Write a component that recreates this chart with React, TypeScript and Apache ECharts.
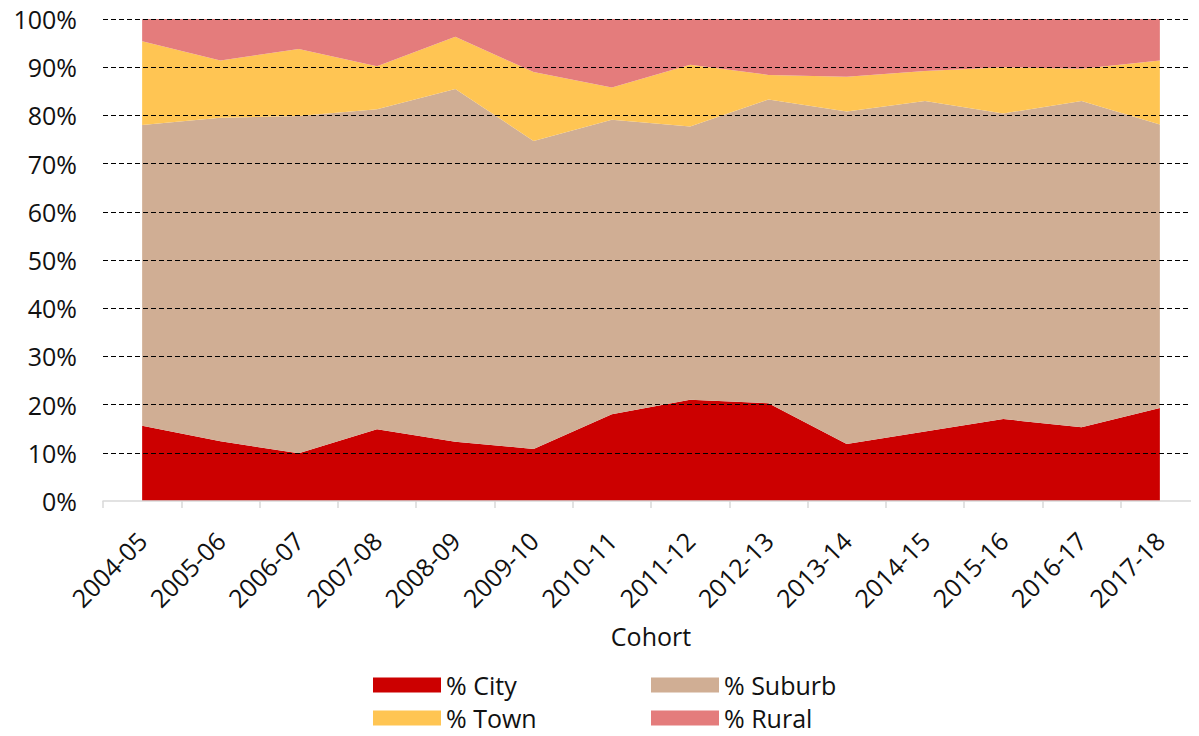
import React, { useEffect, useRef } from "react";
import * as echarts from "echarts";

const categories = [
  "2004-05", "2005-06", "2006-07", "2007-08", "2008-09", "2009-10", "2010-11",
  "2011-12", "2012-13", "2013-14", "2014-15", "2015-16", "2016-17", "2017-18",
];
const city = [15.6, 12.4, 9.9, 14.9, 12.3, 10.8, 18.0, 21.0, 20.3, 11.8, 14.4, 17.0, 15.3, 19.3];
const suburb = [62.4, 67.1, 70.0, 66.4, 73.2, 63.9, 61.1, 56.7, 63.0, 69.0, 68.6, 63.4, 67.7, 58.8];
const town = [17.4, 11.9, 13.9, 8.9, 10.8, 14.3, 6.7, 12.8, 5.1, 7.2, 6.2, 9.6, 6.7, 13.3];
const rural = [4.6, 8.6, 6.2, 9.8, 3.7, 11.0, 14.2, 9.5, 11.6, 12.0, 10.8, 10.0, 10.3, 8.6];

const seriesNames = ["% City", "% Suburb", "% Town", "% Rural"];
const seriesData = [city, suburb, town, rural];
const colors = ["#CC0000", "#D0AE94", "#FFC553", "#E47C7C"];

const FONT = "Open Sans";

export default function App() {
  const ref = useRef<HTMLDivElement>(null);
  useEffect(() => {
    const chart = echarts.init(ref.current!, null, { renderer: "svg" });
    const legendCommon = {
      orient: "vertical" as const,
      top: 672,
      itemWidth: 68,
      itemHeight: 15,
      itemGap: 7,
      icon: "rect",
      textStyle: { fontFamily: FONT, fontSize: 25, color: "#111", lineHeight: 26 },
      padding: 0,
    };
    chart.setOption({
      animation: false,
      color: colors,
      grid: { left: 103, right: -6, top: 19, bottom: 235, containLabel: false },
      legend: [
        { ...legendCommon, left: 373, data: ["% City", "% Town"] },
        { ...legendCommon, left: 651, data: ["% Suburb", "% Rural"] },
      ],
      xAxis: {
        type: "category",
        data: categories,
        boundaryGap: true,
        z: 11,
        name: "Cohort",
        nameLocation: "middle",
        nameGap: 122,
        nameTextStyle: { fontFamily: FONT, fontSize: 25, color: "#111" },
        axisLine: { show: true, lineStyle: { color: "#D9D9D9", width: 1.5 } },
        axisTick: { show: true, length: 7, lineStyle: { color: "#D9D9D9", width: 1.5 } },
        axisLabel: {
          interval: 0,
          rotate: 45,
          margin: 35,
          fontFamily: FONT,
          fontSize: 25,
          color: "#111",
        },
        splitLine: { show: false },
      },
      yAxis: {
        type: "value",
        min: 0,
        max: 100,
        interval: 10,
        z: 10,
        axisLine: { show: false },
        axisTick: { show: false },
        axisLabel: {
          formatter: "{value}%",
          margin: 26,
          fontFamily: FONT,
          fontSize: 25,
          color: "#111",
        },
        splitLine: {
          show: true,
          showMinLine: false,
          lineStyle: { color: "#000", width: 1.2, type: [5, 3] },
        },
      },
      series: seriesNames.map((name, i) => ({
        name,
        type: "line",
        stack: "total",
        data: seriesData[i],
        symbol: "none",
        showSymbol: false,
        lineStyle: { width: 0, color: colors[i] },
        itemStyle: { color: colors[i] },
        areaStyle: { color: colors[i], opacity: 1 },
        z: 2,
      })),
    });
    return () => chart.dispose();
  }, []);
  return <div ref={ref} style={{ width: 1199, height: 736, margin: -8 }} />;
}
